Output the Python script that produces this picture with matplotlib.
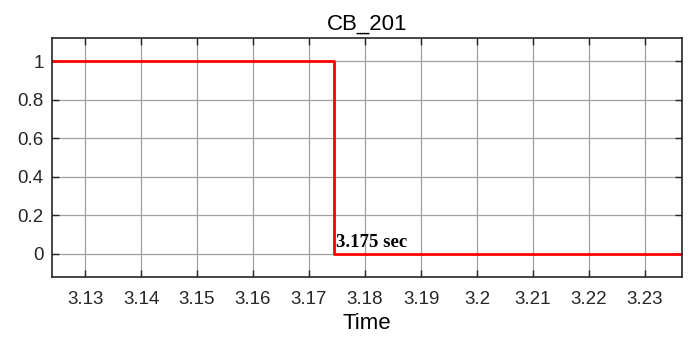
import matplotlib
matplotlib.use("Agg")
import matplotlib.pyplot as plt
import numpy as np

# breaker status signal
t_open = 3.1745
time = [3.1241, t_open, t_open, 3.2366]
status = [1, 1, 0, 0]
xticks = [3.13, 3.14, 3.15, 3.16, 3.17, 3.18, 3.19, 3.2, 3.21, 3.22, 3.23]
xlabels = ["3.13", "3.14", "3.15", "3.16", "3.17", "3.18", "3.19", "3.2", "3.21", "3.22", "3.23"]
yticks = [0, 0.2, 0.4, 0.6, 0.8, 1]
ylabels = ["0", "0.2", "0.4", "0.6", "0.8", "1"]

plt.rcParams['font.family'] = ['Liberation Sans', 'DejaVu Sans']

fig = plt.figure(figsize=(6.92, 3.47), dpi=100)
ax = fig.add_axes([52/692, 1 - 277/347, (682-52)/692, (277-38)/347])

ax.plot(time, status, color='#ff0000', lw=2)
ax.set_xlim(3.1241, 3.2366)
ax.set_ylim(-0.12, 1.12)
ax.set_xticks(xticks)
ax.set_xticklabels(xlabels)
ax.set_yticks(yticks)
ax.set_yticklabels(ylabels)
ax.grid(True, color='#a0a0a0', lw=0.9)
ax.tick_params(direction='in', top=True, right=True, labelsize=13.5,
               colors='#262626', length=5, width=1)
ax.tick_params(axis='x', pad=10)
ax.tick_params(axis='y', pad=6)
for s in ax.spines.values():
    s.set_color('#262626')
    s.set_linewidth(1.2)

ax.text(3.1749, 0.035, "3.175 sec", family='Liberation Serif', fontweight='bold',
        fontsize=13.5, color='black')

ax.set_title("CB_201", fontsize=16, pad=6)
ax.set_xlabel("Time", fontsize=16, labelpad=4)

fig.savefig("out.png", dpi=100)
